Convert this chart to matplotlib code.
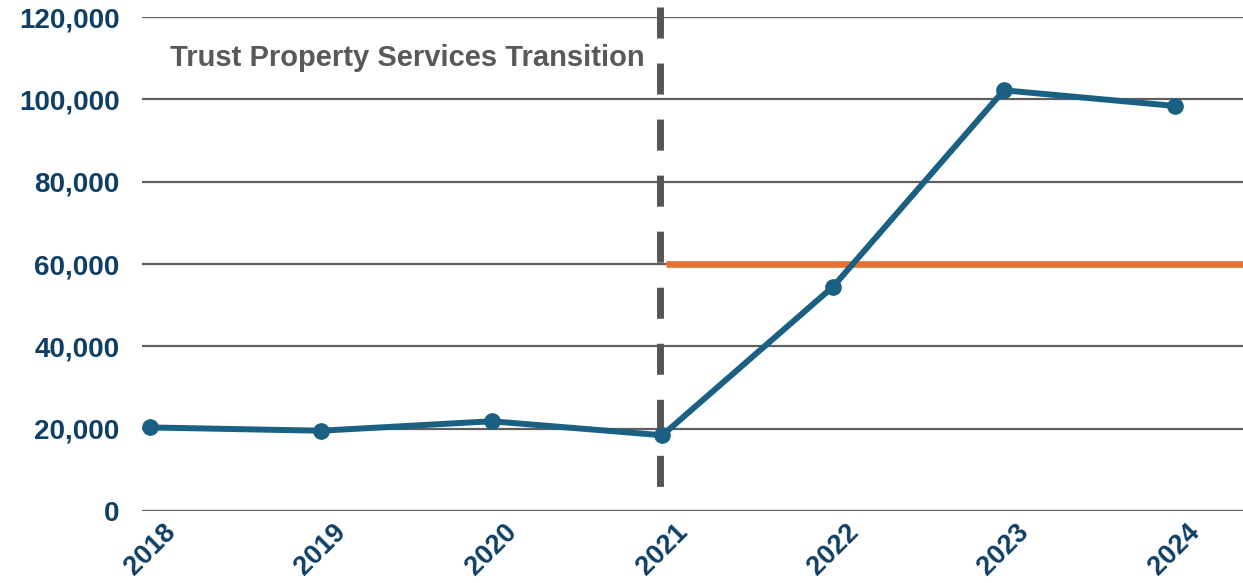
import matplotlib
matplotlib.use("Agg")
import matplotlib.pyplot as plt
from matplotlib.ticker import FuncFormatter

years = [2018, 2019, 2020, 2021, 2022, 2023, 2024]
values = [20300, 19500, 21800, 18400, 54500, 102200, 98400]
target_years = [2021.02, 2024.4]
target_values = [60000, 60000]
transition_year = 2021
transition_label = "Trust Property Services Transition"
y_ticks = [0, 20000, 40000, 60000, 80000, 100000, 120000]

navy = "#0f3f64"
line_col = "#1a6083"
orange = "#e87130"
grid_col = "#5f5f5f"

plt.rcParams['font.family'] = ['Liberation Sans', 'DejaVu Sans']

fig = plt.figure(figsize=(12.43, 5.83), dpi=100)
ax = fig.add_axes([0.1142, 0.1235, 0.8858, 0.8473])

ax.set_xlim(2017.953, 2024.4)
ax.set_ylim(0, 120000)
ax.set_yticks(y_ticks)
ax.yaxis.set_major_formatter(FuncFormatter(lambda v, p: f"{int(v):,}"))
ax.set_xticks(years)
ax.set_xticklabels([str(y) for y in years])

for s in ax.spines.values():
    s.set_visible(False)
ax.tick_params(axis='both', length=0)
ax.tick_params(axis='y', pad=16, labelsize=20, labelcolor=navy)
ax.tick_params(axis='x', pad=6, labelsize=19.5, labelcolor=navy)
for lab in ax.get_yticklabels() + ax.get_xticklabels():
    lab.set_fontweight('bold')
for lab in ax.get_xticklabels():
    lab.set_rotation(45)
    lab.set_ha('center')

ax.grid(axis='y', color=grid_col, linewidth=1.6, zorder=0)
ax.set_axisbelow(True)

ax.plot(target_years, target_values, color=orange, linewidth=4.8, zorder=2, solid_capstyle='butt')
ax.plot([transition_year - 0.012, transition_year - 0.012], [122430, 5830], color="#555555",
        linewidth=5, dashes=(4.47, 3.6), clip_on=False, zorder=3, dash_capstyle='butt')
ax.plot(years, values, color=line_col, linewidth=4.3, marker='o', markersize=11, zorder=4,
        clip_on=False)

ax.text(2018.117, 110000, transition_label, color="#595959", fontsize=21, fontweight='bold',
        va='center', ha='left')

fig.savefig("out.png", dpi=100)
